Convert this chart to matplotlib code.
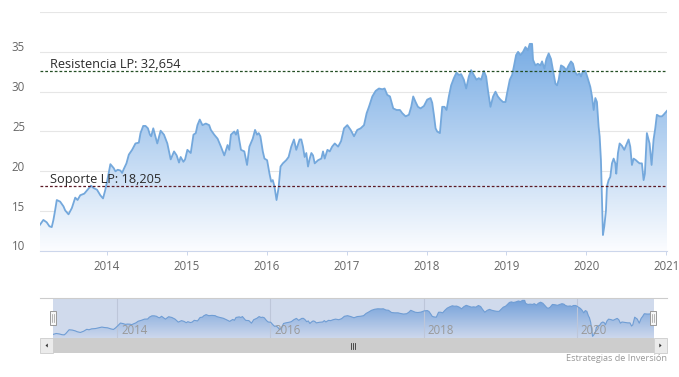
import matplotlib
matplotlib.use('Agg')
import matplotlib.pyplot as plt
import numpy as np
from matplotlib.patches import Rectangle, Polygon
from matplotlib.transforms import ScaledTranslation

plt.rcParams['font.family'] = ['Open Sans', 'DejaVu Sans']

# ---------------- data (decimal years, price) ----------------
dates = [
    2013.161, 2013.203, 2013.245, 2013.279, 2013.308, 2013.329, 2013.350, 2013.371, 2013.413, 2013.455,
    2013.476, 2013.518, 2013.560, 2013.602, 2013.631, 2013.665, 2013.715, 2013.757, 2013.799, 2013.832,
    2013.874, 2013.916, 2013.950, 2013.979, 2014.008, 2014.042, 2014.084, 2014.105, 2014.134, 2014.168,
    2014.189, 2014.210, 2014.243, 2014.273, 2014.314, 2014.356, 2014.398, 2014.419, 2014.453, 2014.482,
    2014.512, 2014.537, 2014.553, 2014.579, 2014.629, 2014.671, 2014.713, 2014.755, 2014.797, 2014.839,
    2014.872, 2014.901, 2014.922, 2014.956, 2014.977, 2015.006, 2015.027, 2015.048, 2015.082, 2015.111,
    2015.132, 2015.161, 2015.195, 2015.237, 2015.279, 2015.300, 2015.342, 2015.384, 2015.426, 2015.468,
    2015.509, 2015.530, 2015.551, 2015.593, 2015.614, 2015.635, 2015.656, 2015.677, 2015.719, 2015.753,
    2015.782, 2015.824, 2015.853, 2015.878, 2015.899, 2015.920, 2015.950, 2015.971, 2016.004, 2016.034,
    2016.055, 2016.075, 2016.096, 2016.122, 2016.147, 2016.172, 2016.201, 2016.243, 2016.273, 2016.306,
    2016.340, 2016.369, 2016.411, 2016.432, 2016.453, 2016.474, 2016.495, 2016.516, 2016.537, 2016.558,
    2016.579, 2016.600, 2016.642, 2016.683, 2016.704, 2016.725, 2016.759, 2016.788, 2016.818, 2016.851,
    2016.893, 2016.930, 2016.967, 2017.008, 2017.050, 2017.092, 2017.133, 2017.175, 2017.217, 2017.250,
    2017.279, 2017.321, 2017.363, 2017.404, 2017.446, 2017.475, 2017.508, 2017.542, 2017.583, 2017.625,
    2017.667, 2017.696, 2017.738, 2017.779, 2017.808, 2017.833, 2017.863, 2017.892, 2017.925, 2017.967,
    2018.008, 2018.050, 2018.071, 2018.092, 2018.113, 2018.133, 2018.167, 2018.196, 2018.225, 2018.250,
    2018.279, 2018.308, 2018.342, 2018.375, 2018.404, 2018.433, 2018.467, 2018.496, 2018.529, 2018.558,
    2018.592, 2018.625, 2018.654, 2018.683, 2018.717, 2018.746, 2018.771, 2018.800, 2018.833, 2018.863,
    2018.892, 2018.925, 2018.958, 2018.988, 2019.008, 2019.042, 2019.071, 2019.092, 2019.121, 2019.146,
    2019.175, 2019.208, 2019.238, 2019.267, 2019.292, 2019.321, 2019.333, 2019.363, 2019.392, 2019.425,
    2019.446, 2019.475, 2019.500, 2019.529, 2019.558, 2019.583, 2019.613, 2019.633, 2019.654, 2019.683,
    2019.717, 2019.750, 2019.779, 2019.808, 2019.833, 2019.854, 2019.883, 2019.917, 2019.933, 2019.958,
    2019.988, 2020.017, 2020.050, 2020.071, 2020.092, 2020.113, 2020.133, 2020.154, 2020.167, 2020.183,
    2020.196, 2020.208, 2020.225, 2020.246, 2020.258, 2020.279, 2020.300, 2020.321, 2020.342, 2020.363,
    2020.375, 2020.396, 2020.417, 2020.446, 2020.475, 2020.500, 2020.529, 2020.550, 2020.571, 2020.592,
    2020.621, 2020.642, 2020.667, 2020.696, 2020.717, 2020.733, 2020.758, 2020.792, 2020.817, 2020.842,
    2020.863, 2020.883, 2020.917, 2020.946, 2020.967, 2021.010,
]
prices = [
    13.3, 13.9, 13.6, 13.1, 13.0, 13.9, 15.1, 16.4, 16.2, 15.6,
    15.1, 14.6, 15.4, 16.7, 16.4, 17.0, 17.2, 17.7, 18.2, 17.9,
    17.7, 17.0, 16.6, 17.7, 19.1, 20.9, 20.4, 20.0, 20.2, 20.1,
    19.8, 20.3, 21.0, 22.1, 22.7, 23.5, 23.6, 24.8, 25.7, 25.7,
    25.4, 24.6, 24.4, 25.4, 23.5, 25.1, 24.6, 23.5, 21.5, 22.5,
    22.0, 21.1, 21.8, 21.2, 21.5, 22.7, 22.5, 22.3, 24.6, 24.8,
    25.8, 26.5, 25.8, 26.0, 25.8, 25.2, 24.6, 24.1, 23.1, 22.0,
    23.3, 22.7, 24.6, 25.0, 24.6, 25.2, 23.9, 22.7, 22.5, 20.8,
    23.1, 24.1, 25.2, 24.6, 24.8, 24.4, 22.5, 21.6, 21.4, 19.7,
    18.7, 18.9, 18.1, 16.4, 17.9, 20.6, 21.0, 21.4, 21.8, 23.1,
    24.0, 22.7, 24.0, 24.0, 23.1, 21.8, 22.3, 20.6, 21.6, 22.3,
    22.0, 21.0, 21.4, 21.6, 22.5, 21.6, 22.7, 22.5, 23.1, 23.5,
    23.1, 23.8, 25.4, 25.8, 25.2, 24.4, 25.2, 25.4, 25.8, 27.3,
    28.1, 29.4, 30.1, 30.4, 30.3, 30.4, 29.6, 29.4, 27.9, 27.7,
    27.7, 27.3, 26.9, 27.1, 28.1, 29.4, 28.7, 28.1, 27.9, 28.2,
    29.0, 29.2, 28.6, 27.1, 25.4, 25.0, 24.8, 28.1, 28.1, 27.7,
    29.4, 30.8, 31.7, 32.4, 32.1, 32.2, 31.5, 30.4, 31.9, 32.7,
    32.1, 31.5, 31.7, 31.5, 32.6, 31.9, 30.0, 28.1, 29.4, 30.0,
    29.4, 29.0, 28.7, 28.7, 29.8, 31.5, 32.1, 33.1, 34.6, 35.0,
    34.6, 35.0, 35.6, 35.2, 36.0, 36.0, 34.0, 33.3, 33.5, 33.3,
    33.8, 32.9, 34.1, 34.8, 34.1, 32.7, 31.0, 30.8, 31.5, 33.3,
    33.1, 32.7, 33.3, 33.8, 33.5, 32.6, 32.1, 32.3, 31.9, 32.6,
    32.6, 31.7, 30.6, 29.4, 27.7, 29.2, 28.7, 25.6, 24.4, 21.4,
    16.4, 12.0, 13.1, 15.1, 18.1, 18.9, 19.3, 21.0, 21.6, 21.0,
    19.7, 22.3, 23.5, 23.2, 22.7, 23.3, 24.0, 23.1, 20.8, 21.6,
    21.4, 21.2, 21.0, 21.0, 18.9, 19.7, 24.8, 23.5, 20.8, 24.0,
    25.4, 27.1, 26.9, 26.9, 27.1, 27.6,
]
resistance = 32.654
support = 18.205
resistance_label = "Resistencia LP: 32,654"
support_label = "Soporte LP: 18,205"
year_ticks = [2014, 2015, 2016, 2017, 2018, 2019, 2020, 2021]
y_ticks = [10, 15, 20, 25, 30, 35, 40]
nav_ticks = [2014, 2016, 2018, 2020]
credit = "Estrategias de Inversión"

# ---------------- figure ----------------
W, H = 679, 377
fig = plt.figure(figsize=(W / 100, H / 100), dpi=100)
fig.patch.set_facecolor('white')


def box(l, t, r, b):
    return [l / W, 1 - b / H, (r - l) / W, (b - t) / H]


def grad_fill(ax, x, y, base, top, ctop, cbot, zorder=1):
    poly = ax.fill_between(x, y, base, facecolor='none', edgecolor='none')
    n = 256
    f = np.linspace(0, 1, n)[:, None]
    ct = np.array(ctop) / 255.0
    cb = np.array(cbot) / 255.0
    rgb = cb[None, :] * (1 - f) + ct[None, :] * f
    img = np.ones((n, 1, 4))
    img[:, 0, :3] = rgb
    im = ax.imshow(img, extent=[x[0], x[-1], base, top], origin='lower',
                   aspect='auto', zorder=zorder, interpolation='bilinear')
    im.set_clip_path(poly.get_paths()[0], transform=ax.transData)
    return im


x = np.array(dates)
y = np.array(prices)

# ---------------- main chart ----------------
ax = fig.add_axes(box(40, 12, 667, 251))
grad_fill(ax, x, y, 10, y.max(), (120, 172, 228), (252, 253, 255), zorder=1)
ax.plot(x, y, color='#74a8dc', lw=1.3, zorder=3, solid_joinstyle='round')
ax.set_xlim(x[0], x[-1])
ax.set_ylim(10, 40)

ax.axhline(resistance, color='#244f24', ls=(0, (2.2, 1.6)), lw=0.9, zorder=4)
ax.axhline(support, color='#5c1a26', ls=(0, (2.2, 1.6)), lw=0.9, zorder=4)
ax.annotate(resistance_label, xy=(0, resistance), xycoords=('axes fraction', 'data'),
            xytext=(7.2, 1.8), textcoords='offset points', va='baseline', ha='left',
            fontsize=9.2, color='#2b2b2b', zorder=5)
ax.annotate(support_label, xy=(0, support), xycoords=('axes fraction', 'data'),
            xytext=(7.2, 1.8), textcoords='offset points', va='baseline', ha='left',
            fontsize=9.2, color='#2b2b2b', zorder=5)

ax.set_yticks(y_ticks)
ax.set_yticklabels([str(v) if v != 40 else '' for v in y_ticks])
ax.tick_params(axis='y', length=0, pad=10.8, labelsize=8.3, labelcolor='#666666')
for lab in ax.get_yticklabels():
    lab.set_transform(lab.get_transform() + ScaledTranslation(0, 5.6 / 100, fig.dpi_scale_trans))
ax.grid(axis='y', color='#e6e6e6', lw=0.8, zorder=0)
ax.set_axisbelow(True)

ax.set_xticks(year_ticks)
ax.set_xticklabels([str(v) for v in year_ticks])
ax.tick_params(axis='x', length=3.2, width=0.7, color='#ccd6eb', pad=3.5,
               labelsize=8.3, labelcolor='#666666')
for s in ['top', 'left', 'right']:
    ax.spines[s].set_visible(False)
ax.spines['bottom'].set_color('#ccd6eb')
ax.spines['bottom'].set_linewidth(0.8)

# ---------------- navigator ----------------
axn = fig.add_axes(box(53, 298, 654, 338))
grad_fill(axn, x, y, 10.9, y.max(), (120, 172, 228), (250, 252, 255), zorder=1)
axn.plot(x, y, color='#74a8dc', lw=0.8, zorder=3)
axn.set_xlim(x[0], x[-1])
axn.set_ylim(10.9, 37.6)
for t in nav_ticks:
    axn.axvline(t, color='#e3e3e3', lw=0.8, zorder=2)
    axn.annotate(str(t), xy=(t, 0), xycoords=('data', 'axes fraction'),
                 xytext=(3, 2.6), textcoords='offset points', va='baseline', ha='left',
                 fontsize=8.3, color='#999999', zorder=6)
axn.axvspan(x[0], x[-1], color=(102 / 255, 133 / 255, 194 / 255), alpha=0.3, lw=0, zorder=5)
axn.set_xticks([])
axn.set_yticks([])
for s in axn.spines.values():
    s.set_visible(False)

# ---------------- UI decorations (pixel overlay) ----------------
ov = fig.add_axes([0, 0, 1, 1], zorder=10)
ov.set_xlim(0, W)
ov.set_ylim(H, 0)
ov.axis('off')
ov.patch.set_alpha(0)

ov.plot([40, 667], [298.3, 298.3], color='#cccccc', lw=0.8)
# scrollbar
ov.add_patch(Rectangle((53, 338.3), 601, 14.4, facecolor='#cdcdcd', edgecolor='none'))
ov.add_patch(Rectangle((40, 338.3), 13, 14.4, facecolor='#ebebeb', edgecolor='#cccccc', lw=0.6))
ov.add_patch(Rectangle((654, 338.3), 13, 14.4, facecolor='#ebebeb', edgecolor='#cccccc', lw=0.6))
ov.add_patch(Polygon([[47.8, 343.5], [47.8, 347.5], [45.5, 345.5]], closed=True, facecolor='#333333', edgecolor='none'))
ov.add_patch(Polygon([[659.3, 343.5], [659.3, 347.5], [661.6, 345.5]], closed=True, facecolor='#333333', edgecolor='none'))
for gx in (350.5, 352.5, 354.5):
    ov.plot([gx, gx], [342.5, 348.5], color='#333333', lw=0.6)
# handles
for hx in (53, 653):
    ov.add_patch(Rectangle((hx - 3.4, 310.7), 6.8, 14.3, facecolor='#f7f7f7', edgecolor='#999999', lw=0.7))
    for dx in (-1.0, 1.0):
        ov.plot([hx + dx, hx + dx], [313.5, 322.3], color='#999999', lw=0.5)

fig.text(667 / W, 1 - 358.5 / H, credit, ha='right', va='center', fontsize=6.6, color='#999999')

fig.savefig('out.png', dpi=100)
